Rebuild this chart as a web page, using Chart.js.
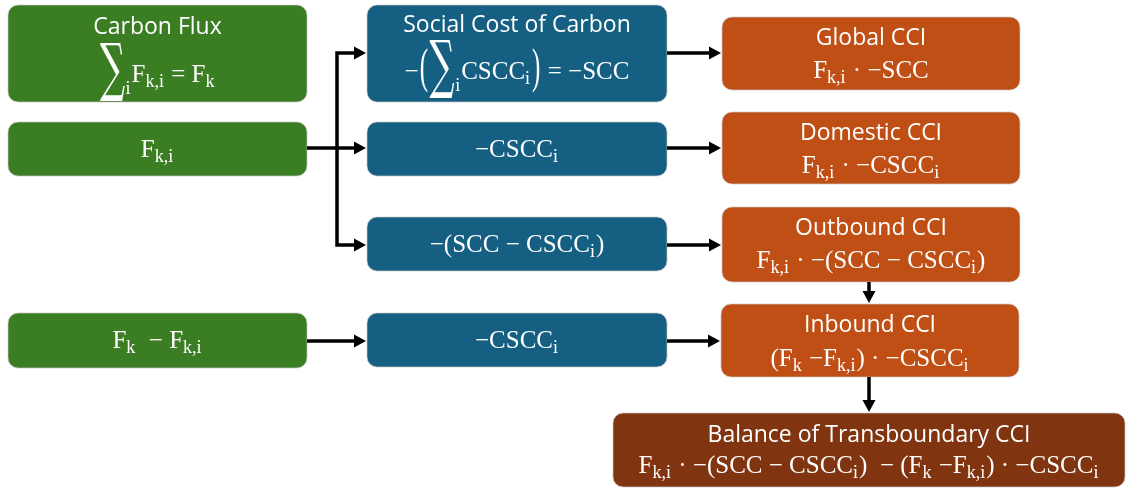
<!DOCTYPE html>
<html>
<head>
<meta charset="utf-8">
<script src="https://cdn.jsdelivr.net/npm/chart.js@4"></script>
<style>
  html, body { margin: 0; padding: 0; background: #fff; }
  #wrap { width: 1128px; height: 488px; }
</style>
</head>
<body>
<div id="wrap"><canvas id="flowChart" width="1128" height="488"></canvas></div>
<script>
// diagram content
const titles = ['Carbon Flux', '', '', 'Social Cost of Carbon', '', '', '',
    'Global CCI', 'Domestic CCI', 'Outbound CCI', 'Inbound CCI', 'Balance of Transboundary CCI'];
const formulas = [
    '\\sum_{i}F_{k,i} = F_{k}',
    'F_{k,i}',
    'F_{k}  − F_{k,i}',
    '−\\lp\\sum_{i}CSCC_{i}\\rp = −SCC',
    '−CSCC_{i}',
    '−(SCC − CSCC_{i})',
    '−CSCC_{i}',
    'F_{k,i} · −SCC',
    'F_{k,i} · −CSCC_{i}',
    'F_{k,i} · −(SCC − CSCC_{i})',
    '(F_{k} −F_{k,i}) · −CSCC_{i}',
    'F_{k,i} · −(SCC − CSCC_{i})  − (F_{k} −F_{k,i}) · −CSCC_{i}'
];
const kinds = ['flux', 'flux', 'flux', 'cost', 'cost', 'cost', 'cost',
    'cci', 'cci', 'cci', 'cci', 'balance'];

// layout: box x0, y0, x1, y1, title centre, formula centre
const layout = [
    [8, 5, 307, 102, 27, 74],
    [8, 122, 307, 176, 0, 149],
    [8, 313, 307, 368, 0, 340],
    [367, 5, 667, 102, 25, 71],
    [367, 122, 667, 176, 0, 149],
    [367, 217, 667, 271, 0, 244],
    [367, 313, 667, 367, 0, 340],
    [722, 17, 1020, 90, 38, 70],
    [722, 112, 1020, 184, 133, 165],
    [722, 207, 1020, 282, 228, 260],
    [721, 304, 1019, 377, 325, 358],
    [613, 413, 1125, 487, 435, 465]
];
const arrows = [
    [[307, 148], [366, 148]],
    [[337, 148], [337, 53], [366, 53]],
    [[337, 148], [337, 245], [366, 245]],
    [[667, 53], [721, 53]],
    [[667, 148], [721, 148]],
    [[667, 245], [721, 245]],
    [[667, 341], [720, 341]],
    [[307, 341], [366, 341]],
    [[869, 282], [869, 303]],
    [[869, 377], [869, 412]]
];
const colors = { flux: '#3b7d23', cost: '#156082', cci: '#c04f15', balance: '#803510' };

const TITLE_FONT = '23px "Open Sans"';
const MATH = '"Liberation Serif"';

function parseFormula(str) {
    const parts = str.match(/\\sum|\\lp|\\rp|_\{[^}]*\}|[^\\_]+/g) || [];
    const pieces = [];
    let afterSum = false;
    parts.forEach(p => {
        if (p === '\\sum') {
            pieces.push({ text: '∑', font: '44px "DejaVu Serif"', sy: 1.45, sx: 0.8, oy: -2, gap: 1 });
            afterSum = true;
        } else if (p === '\\lp' || p === '\\rp') {
            pieces.push({ text: p === '\\lp' ? '(' : ')', font: '25px ' + MATH, sy: 1.9, sx: 1, oy: 0, gap: 2 });
        } else if (p[0] === '_') {
            pieces.push({ text: p.slice(2, -1), font: '18px ' + MATH, dy: afterSum ? 12 : 5, gap: 1 });
            afterSum = false;
        } else {
            pieces.push({ text: p, font: '25px ' + MATH, dy: 0, gap: 0 });
        }
    });
    return pieces;
}

function drawFormula(ctx, str, cx, cy) {
    const pieces = parseFormula(str);
    let total = 0;
    pieces.forEach(p => {
        ctx.font = p.font;
        const m = ctx.measureText(p.text);
        p.w = m.width * (p.sx || 1) + p.gap;
        p.asc = m.actualBoundingBoxAscent;
        p.desc = m.actualBoundingBoxDescent;
        total += p.w;
    });
    let x = cx - total / 2;
    const base = cy + 8;
    pieces.forEach(p => {
        ctx.font = p.font;
        if (p.sy) {
            // stretched glyph, centred on the formula line
            ctx.save();
            ctx.translate(x + p.gap / 2, cy + p.oy);
            ctx.scale(p.sx, p.sy);
            ctx.fillText(p.text, 0, (p.asc - p.desc) / 2);
            ctx.restore();
        } else {
            ctx.fillText(p.text, x, base + p.dy);
        }
        x += p.w;
    });
}

const diagramPlugin = {
    id: 'diagram',
    afterDraw(chart) {
        const ctx = chart.ctx;
        const xs = chart.scales.x, ys = chart.scales.y;
        const px = v => xs.getPixelForValue(v);
        const py = v => ys.getPixelForValue(v);
        ctx.save();

        // boxes
        layout.forEach((b, i) => {
            const x0 = px(b[0]), y0 = py(b[1]), x1 = px(b[2]), y1 = py(b[3]);
            ctx.beginPath();
            ctx.roundRect(x0, y0, x1 - x0, y1 - y0, 10);
            ctx.fillStyle = colors[kinds[i]];
            ctx.fill();
            ctx.lineWidth = 1;
            ctx.strokeStyle = 'rgba(200,200,200,0.7)';
            ctx.stroke();

            ctx.fillStyle = '#fff';
            ctx.textAlign = 'left';
            if (titles[i]) {
                ctx.font = TITLE_FONT;
                ctx.textAlign = 'center';
                ctx.textBaseline = 'middle';
                ctx.fillText(titles[i], (x0 + x1) / 2, py(b[4]));
                ctx.textAlign = 'left';
            }
            ctx.textBaseline = 'alphabetic';
            drawFormula(ctx, formulas[i], (x0 + x1) / 2, py(b[5]));
        });

        // connectors
        ctx.strokeStyle = '#000';
        ctx.fillStyle = '#000';
        ctx.lineWidth = 3.5;
        ctx.lineJoin = 'miter';
        arrows.forEach(pts => {
            const P = pts.map(p => [px(p[0]), py(p[1])]);
            const n = P.length;
            const [ex, ey] = P[n - 1];
            const [sx, sy] = P[n - 2];
            const ang = Math.atan2(ey - sy, ex - sx);
            const head = 12, half = 6.5;
            ctx.beginPath();
            ctx.moveTo(P[0][0], P[0][1]);
            for (let k = 1; k < n - 1; k++) ctx.lineTo(P[k][0], P[k][1]);
            ctx.lineTo(ex - Math.cos(ang) * (head - 2), ey - Math.sin(ang) * (head - 2));
            ctx.stroke();
            ctx.beginPath();
            ctx.moveTo(ex, ey);
            ctx.lineTo(ex - Math.cos(ang) * head - Math.sin(ang) * half, ey - Math.sin(ang) * head + Math.cos(ang) * half);
            ctx.lineTo(ex - Math.cos(ang) * head + Math.sin(ang) * half, ey - Math.sin(ang) * head - Math.cos(ang) * half);
            ctx.closePath();
            ctx.fill();
        });
        ctx.restore();
    }
};

new Chart(document.getElementById('flowChart').getContext('2d'), {
    type: 'scatter',
    data: { datasets: [{ data: [] }] },
    options: {
        responsive: false,
        animation: false,
        layout: { padding: 0 },
        plugins: { legend: { display: false }, tooltip: { enabled: false } },
        scales: {
            x: { type: 'linear', min: 0, max: 1128, display: false },
            y: { type: 'linear', min: 0, max: 488, reverse: true, display: false }
        }
    },
    plugins: [diagramPlugin]
});
</script>
</body>
</html>
